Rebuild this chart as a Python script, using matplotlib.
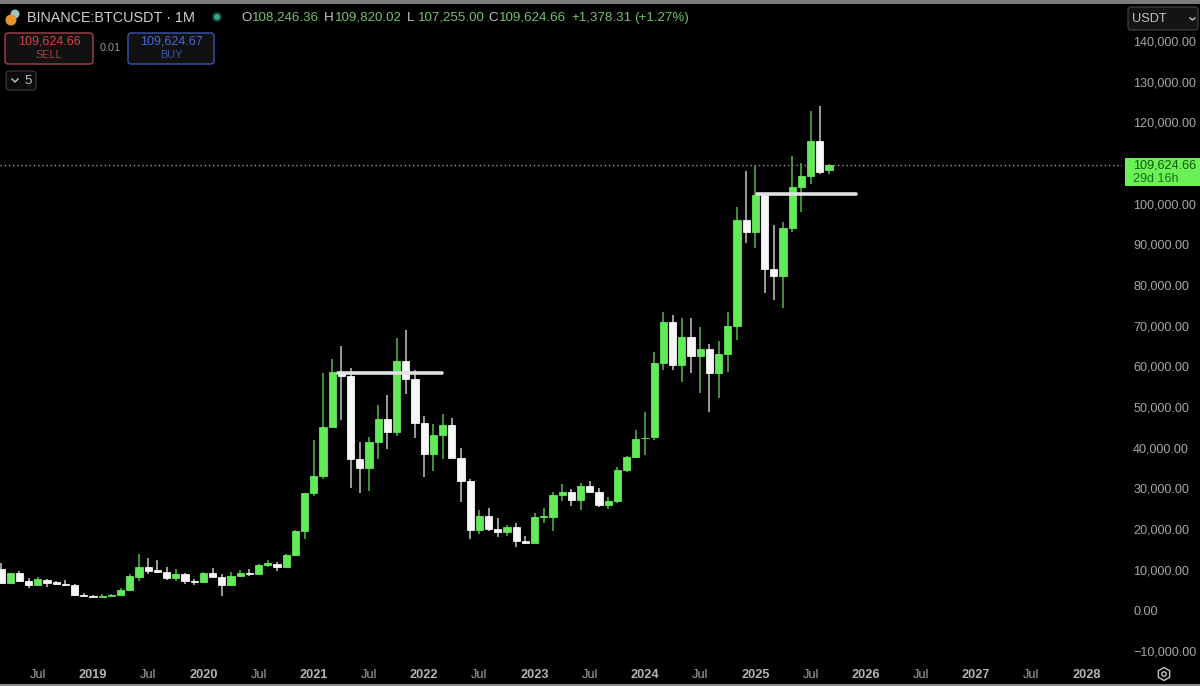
import matplotlib
matplotlib.use('Agg')
import matplotlib.pyplot as plt
from matplotlib.patches import FancyBboxPatch, Circle, Rectangle, RegularPolygon

plt.rcParams['font.family'] = ['Liberation Sans', 'DejaVu Sans']

# monthly candles, Mar 2018 to Sep 2025
opens = [10100, 6700, 9100, 7200, 6200, 7500, 7000, 6600, 6350, 3900,
         3500, 3250, 3550, 3900, 5050, 8300, 10700, 9900, 9400, 8000, 9000, 7300,
         6900, 9200, 8300, 6200, 8500, 9300, 9050, 11200, 11500, 10600, 13700, 19500,
         28900, 33000, 45100, 58700, 57700, 37300, 35000, 41500, 47100, 43800, 61300, 57000,
         46200, 38500, 43200, 45500, 37600, 31800, 19900, 23300, 20000, 19400, 20500, 17200,
         16500, 23100, 23100, 28500, 29200, 27200, 30500, 29200, 26000, 27000, 34600, 37700,
         42300, 42600, 60800, 71000, 60300, 67300, 62600, 64300, 58500, 63000, 69900, 96000,
         93100, 102100, 84000, 82200, 94000, 104200, 106800, 115400, 108200]
highs = [11600, 9300, 9800, 8000, 8300, 7700, 7300, 7500, 6600, 4200,
         3800, 4000, 4100, 5500, 9000, 13800, 13000, 12300, 10600, 10100, 9300, 7700,
         9400, 10400, 9000, 9400, 10000, 10200, 11400, 12400, 12000, 13900, 19900, 29000,
         41900, 58300, 61800, 64900, 59600, 41300, 42600, 50500, 52900, 67000, 69000, 59000,
         47900, 45800, 48200, 47400, 40000, 32400, 24700, 25200, 22800, 21100, 21400, 18400,
         23900, 25200, 29200, 31000, 29800, 31400, 31800, 30200, 28000, 35300, 38000, 44400,
         48800, 63600, 73400, 72600, 71900, 71900, 69800, 65500, 66300, 73400, 99300, 108000,
         109300, 102500, 94800, 95500, 111700, 110000, 122800, 124100, 109820]
lows = [6500, 6500, 7000, 5600, 6100, 5800, 6200, 6100, 3500, 3200,
        3200, 3250, 3500, 3850, 5000, 7300, 9000, 9200, 7500, 7300, 6400, 6300,
        6800, 8300, 3650, 6100, 8300, 8600, 8950, 10600, 9600, 10400, 13500, 17600,
        28100, 32300, 44900, 46900, 30000, 28800, 29300, 37300, 39600, 43000, 53200, 42300,
        32900, 34300, 37200, 37600, 26700, 17600, 18800, 19500, 18100, 18200, 15500, 16300,
        16500, 21400, 19500, 26900, 25800, 24800, 29500, 25400, 24900, 26500, 34000, 37600,
        38200, 41900, 59000, 59000, 56200, 58400, 53400, 48800, 52300, 58700, 66500, 90300,
        89100, 78000, 76300, 74300, 93100, 98000, 104800, 107300, 107255]
closes = [6700, 9100, 7200, 6200, 7700, 6800, 6500, 6300, 3800, 3500,
          3250, 3550, 3900, 5100, 8500, 10700, 9800, 9400, 8000, 9000, 7300, 6900,
          9200, 8300, 6200, 8500, 9100, 8900, 11100, 11600, 10600, 13700, 19600, 28900,
          33000, 45200, 58700, 57700, 37300, 35000, 41500, 47100, 43800, 61300, 57000, 46200,
          38500, 43200, 45500, 37600, 31800, 19900, 23300, 20000, 19400, 20500, 17200, 16500,
          23100, 23200, 28500, 29200, 27200, 30500, 29200, 26000, 27000, 34600, 37700, 42200,
          42400, 60800, 71000, 60300, 67300, 62600, 64300, 58500, 63000, 69900, 96000, 93100,
          102100, 84000, 82200, 94000, 104200, 106800, 115400, 107800, 109624.66]

price_ticks = [-10000, 0, 10000, 20000, 30000, 40000, 50000, 60000, 70000,
               80000, 90000, 100000, 110000, 120000, 130000, 140000]
# ticks every six months, index 0 is Mar 2018
date_ticks = [4, 10, 16, 22, 28, 34, 40, 46, 52, 58, 64, 70, 76, 82, 88, 94, 100, 106, 112, 118]
date_labels = ['Jul', '2019', 'Jul', '2020', 'Jul', '2021', 'Jul', '2022', 'Jul', '2023',
               'Jul', '2024', 'Jul', '2025', 'Jul', '2026', 'Jul', '2027', 'Jul', '2028']

level_a = 58500
level_b = 102300
last_price = 109624.66

green = '#62ea58'
green_wick = '#4c9a44'
white = '#f6f6f6'
white_wick = '#a8a8a8'
grey = '#a6a6a6'

fig = plt.figure(figsize=(12, 6.86), dpi=100, facecolor='black')

# main chart, 1122 px wide, from y=5 to y=662
ax = fig.add_axes([0, 1 - 662 / 686, 1122 / 1200, 657 / 686], facecolor='black')
ax.set_xlim(-0.109, 121.85)
ax.set_ylim((610.5 - 662) / 0.004068, (610.5 - 5) / 0.004068)

x = list(range(len(opens)))
body_bottom = [min(o, c) for o, c in zip(opens, closes)]
body_height = [abs(c - o) for o, c in zip(opens, closes)]
up = [c >= o for o, c in zip(opens, closes)]

ax.vlines(x, lows, highs, colors=[green_wick if u else white_wick for u in up], linewidth=1.3, zorder=2)
ax.bar(x, body_height, bottom=body_bottom, width=0.78,
       color=[green if u else white for u in up],
       edgecolor=[green if u else white for u in up], linewidth=0.6, zorder=3)

# the two drawn levels
ax.plot([36.6, 47.9], [level_a, level_a], color='#e2e2e2', linewidth=2.6,
        solid_capstyle='round', zorder=4)
ax.plot([82.2, 92.9], [level_b, level_b], color='#e2e2e2', linewidth=2.6,
        solid_capstyle='round', zorder=4)
ax.axhline(last_price, color='#9a9a9a', linewidth=1, linestyle=(0, (1, 2)), zorder=1)

for s in ax.spines.values():
    s.set_visible(False)
ax.yaxis.tick_right()
ax.set_yticks(price_ticks)
ax.set_yticklabels([f'{p:,.2f}'.replace('-', '\u2212') for p in price_ticks])
ax.tick_params(axis='y', length=0, pad=8, labelsize=9.1, labelcolor=grey)
ax.set_xticks(date_ticks)
ax.set_xticklabels(date_labels)
ax.tick_params(axis='x', length=0, pad=5, labelsize=9.2, labelcolor=grey)
for lab in ax.get_xticklabels():
    if lab.get_text() != 'Jul':
        lab.set_fontweight('bold')
        lab.set_color('#b4b4b4')

# interface parts on top, in pixel coordinates
ui = fig.add_axes([0, 0, 1, 1])
ui.set_xlim(0, 1200)
ui.set_ylim(686, 0)
ui.axis('off')
ui.patch.set_alpha(0)

ui.add_patch(Rectangle((0, 0), 1200, 3.5, color='#7c7c7c', lw=0))
ui.add_patch(Rectangle((0, 684), 1200, 2, color='#8c8c8c', lw=0))

# symbol logo and status dot
ui.add_patch(Circle((15, 14), 4.5, color='#9fc4c4', lw=0))
ui.add_patch(Circle((11, 20), 5.5, color='#e8932c', lw=0))
ui.add_patch(Circle((217, 17), 5, color='#123f38', lw=0))
ui.add_patch(Circle((217, 17), 3, color='#3fa58f', lw=0))
ui.text(27, 18, 'BINANCE:BTCUSDT \u00b7 1M', color='#cfcfcf', fontsize=10.4, va='center')

ohlc_label = '#c4c4c4'
ohlc_value = '#72c26a'
for px, label, value in [(241, 'O', '108,246.36'), (324, 'H', '109,820.02'),
                         (407, 'L', '107,255.00'), (488, 'C', '109,624.66')]:
    ui.text(px, 18, label, color=ohlc_label, fontsize=9.6, va='center')
    ui.text(px + 11, 18, value, color=ohlc_value, fontsize=9.6, va='center')
ui.text(571, 18, '+1,378.31', color=ohlc_value, fontsize=9.6, va='center')
ui.text(634, 18, '(+1.27%)', color=ohlc_value, fontsize=9.6, va='center')


def box(x0, y0, x1, y1, edge, face='#111111'):
    ui.add_patch(FancyBboxPatch((x0 + 3, y0 + 3), x1 - x0 - 6, y1 - y0 - 6,
                                boxstyle='round,pad=3', edgecolor=edge, facecolor=face, linewidth=1))


box(5, 33, 93, 64, '#a8414a')
ui.text(49, 42, '109,624.66', color='#d8434e', fontsize=9, ha='center', va='center')
ui.text(49, 55, 'SELL', color='#b23a44', fontsize=7.8, ha='center', va='center')
ui.text(110, 48, '0.01', color='#9a9a9a', fontsize=7.8, ha='center', va='center')
box(128, 33, 214, 64, '#3d55b0')
ui.text(171, 42, '109,624.67', color='#4a68d8', fontsize=9, ha='center', va='center')
ui.text(171, 55, 'BUY', color='#3d55a8', fontsize=7.8, ha='center', va='center')

box(6, 71, 36, 90, '#333333', '#0c0c0c')
ui.plot([12, 15, 18], [79, 82, 79], color='#c8c8c8', linewidth=1)
ui.text(28, 81, '5', color='#c0c0c0', fontsize=9.5, ha='center', va='center')

box(1128, 7, 1198, 30, '#3c3c3c', '#141414')
ui.text(1132, 19, 'USDT', color='#c4c4c4', fontsize=9.2, va='center')
ui.plot([1190, 1192.5, 1195], [18, 20, 18], color='#c8c8c8', linewidth=1)

# last price tag
ui.add_patch(Rectangle((1125, 158), 75, 28, color='#6bf055', lw=0))
ui.text(1133, 166, '109,624.66', color='#0f5a0c', fontsize=9.1, va='center')
ui.text(1133, 179, '29d 16h', color='#15701a', fontsize=9, va='center')

# settings icon
ui.add_patch(RegularPolygon((1164, 674), 6, radius=6.5, facecolor='none', edgecolor='#c0c0c0', linewidth=1))
ui.add_patch(Circle((1164, 674), 2.2, facecolor='none', edgecolor='#c0c0c0', linewidth=1))

plt.savefig('out.png', dpi=100, facecolor='black')
